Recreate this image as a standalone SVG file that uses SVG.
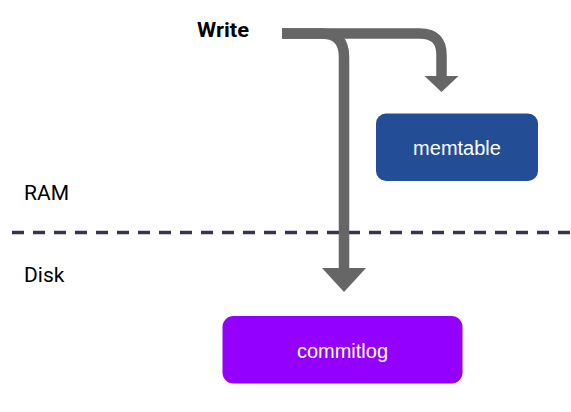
<svg xmlns="http://www.w3.org/2000/svg" width="571" height="412" viewBox="0 0 571 412">
<style>
.lbl{font-family:Roboto,"Liberation Sans",sans-serif;fill:#000}
.box{font-family:"Liberation Sans",Arial,sans-serif;font-size:20px;fill:#fff;text-anchor:middle}
.flow{fill:none;stroke:#666;stroke-width:10.5}
.head{fill:#666}
</style>
<rect width="571" height="412" fill="#fff"/>
<g id="labels">
<text class="lbl" x="197" y="37" font-size="21" font-weight="bold" textLength="52" lengthAdjust="spacingAndGlyphs">Write</text>
<text class="lbl" x="24" y="200" font-size="21">RAM</text>
<text class="lbl" x="24" y="282" font-size="21">Disk</text>
</g>
<line x1="12" y1="232.5" x2="571" y2="232.5" stroke="#3a3254" stroke-width="3.5" stroke-dasharray="12 9"/>
<g id="connectors">
<path class="flow" d="M282 33.5 H420 Q441.5 33.5 441.5 55 V77"/>
<polygon class="head" points="424.5,76 458.5,76 441.5,92"/>
<path class="flow" d="M282 33.5 H321 Q344 33.5 344 56.5 V270"/>
<polygon class="head" points="322,268 366,268 344,292"/>
</g>
<g id="memtable">
<rect x="376" y="113.5" width="162" height="67.5" rx="10" fill="#234e96"/>
<text class="box" x="457" y="155">memtable</text>
</g>
<g id="commitlog">
<rect x="222.5" y="316" width="240" height="67.5" rx="11" fill="#9400ff"/>
<text class="box" x="342.5" y="357.5">commitlog</text>
</g>
</svg>
